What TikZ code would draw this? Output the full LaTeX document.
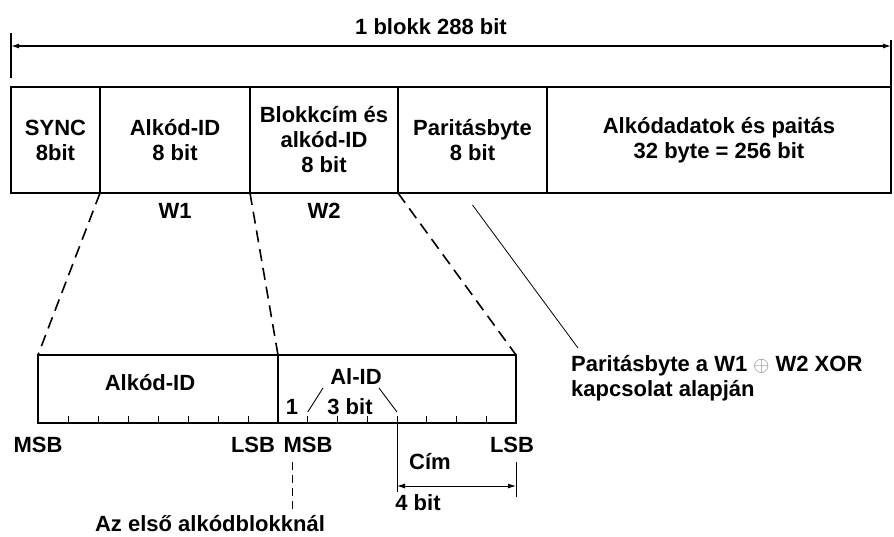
\documentclass[tikz,border=0pt]{standalone}
\usepackage{fontspec}
\setmainfont{Liberation Sans}
\usetikzlibrary{positioning,arrows.meta,calc}

\begin{document}
\begin{tikzpicture}[x=1pt,y=-1pt,
    every node/.style={font=\bfseries\fontsize{22}{25}\selectfont, inner sep=0pt},
    field/.style={draw, line width=1.6pt, outer sep=0pt, minimum height=106, align=center},
    subfield/.style={draw, line width=1.6pt, outer sep=0pt, minimum height=68},
    zoomline/.style={line width=1.6pt, dash pattern=on 12pt off 7pt},
    >={Latex[length=8pt,width=5pt]}]

    % Define the bounding box
    \useasboundingbox (0,0) rectangle (894,536);

    % Draw the block fields
    \node[field, minimum width=89, anchor=north west] (sync) at (11,87) {SYNC\\8bit};
    \node[field, minimum width=150, right=0pt of sync] (alkod) {Alkód-ID\\8 bit};
    \node[field, minimum width=148, right=0pt of alkod] (cim) {Blokkcím és\\alkód-ID\\8 bit};
    \node[field, minimum width=149, right=0pt of cim] (parit) {Paritásbyte\\8 bit};
    \node[field, minimum width=344, right=0pt of parit] (data) {Alkódadatok és paitás\\32 byte = 256 bit};

    % Draw the block length arrow
    \node (blokk) at (431,27) {1 blokk 288 bit};
    \coordinate (leftend) at (11,33);
    \coordinate (rightend) at (891,40);
    \draw[line width=1.2pt] (leftend) -- (11,78);
    \draw[line width=1.2pt] (rightend) -- (data.north east);
    \draw[line width=1.2pt,<->] (11,46) -- (891,46);

    % Label the words
    \node (w1) at (175,211) {W1};
    \node (w2) at (324,211) {W2};

    % Draw the expanded words
    \node[subfield, minimum width=240, anchor=north west] (sub1) at (38,355) {};
    \node[subfield, minimum width=238, right=0pt of sub1] (sub2) {};
    \foreach \i in {1,...,7} {
        \draw[line width=0.9pt] ($(sub1.south west)!\i/8!(sub1.south east)$) -- ++(0,-7);
        \draw[line width=0.9pt] ($(sub2.south west)!\i/8!(sub2.south east)$) coordinate (t\i) -- ++(0,-7);
    }

    % Connect the words to their expansion
    \draw[zoomline] (sync.south east) -- (sub1.north west);
    \draw[zoomline] (alkod.south east) -- (sub1.north east);
    \draw[zoomline] (cim.south east) -- (sub2.north east);

    % Label the bits
    \node (subalkod) at (150,383) {Alkód-ID};
    \node (alid) at (356,377) {Al-ID};
    \node (one) at (292,407) {1};
    \node (three) at (350,407) {3 bit};
    \draw[line width=0.9pt] ([yshift=11pt]t1) -- (323,388);
    \draw[line width=0.9pt] (379,388) -- ([yshift=11pt]t4);
    \node (msb1) at (38,445) {MSB};
    \node (lsb1) at (253,445) {LSB};
    \node (msb2) at (308,445) {MSB};
    \node (lsb2) at (512,445) {LSB};

    % Draw the address width
    \coordinate (cimend) at (t4 |- 0,492);
    \coordinate (lsbtop) at (sub2.south east |- 0,462);
    \coordinate (lsbbot) at (sub2.south east |- 0,497);
    \draw[line width=0.9pt] (t4) -- (cimend);
    \draw[line width=0.9pt] (lsbtop) -- (lsbbot);
    \draw[line width=0.9pt,<->] (t4 |- 0,486) -- (sub2.south east |- 0,486);
    \node (cimlbl) at (430,462) {Cím};
    \node (fourbit) at (418,503) {4 bit};

    % Mark the first subcode block
    \draw[line width=0.9pt, dash pattern=on 8pt off 5pt] (msb2.south -| 292,0) ++(0,9) -- (292,510);
    \node (first) at (210,524) {Az első alkódblokknál};

    % Parity note
    \node[anchor=west, align=left] (note) at (571,378) {Paritásbyte a W1 {\color{gray}$\oplus$} W2 XOR\\kapcsolat alapján};
    \coordinate (noteend) at (578,348);
    \draw[line width=0.8pt] ([yshift=-12pt]parit.south) -- (noteend);

\end{tikzpicture}
\end{document}
